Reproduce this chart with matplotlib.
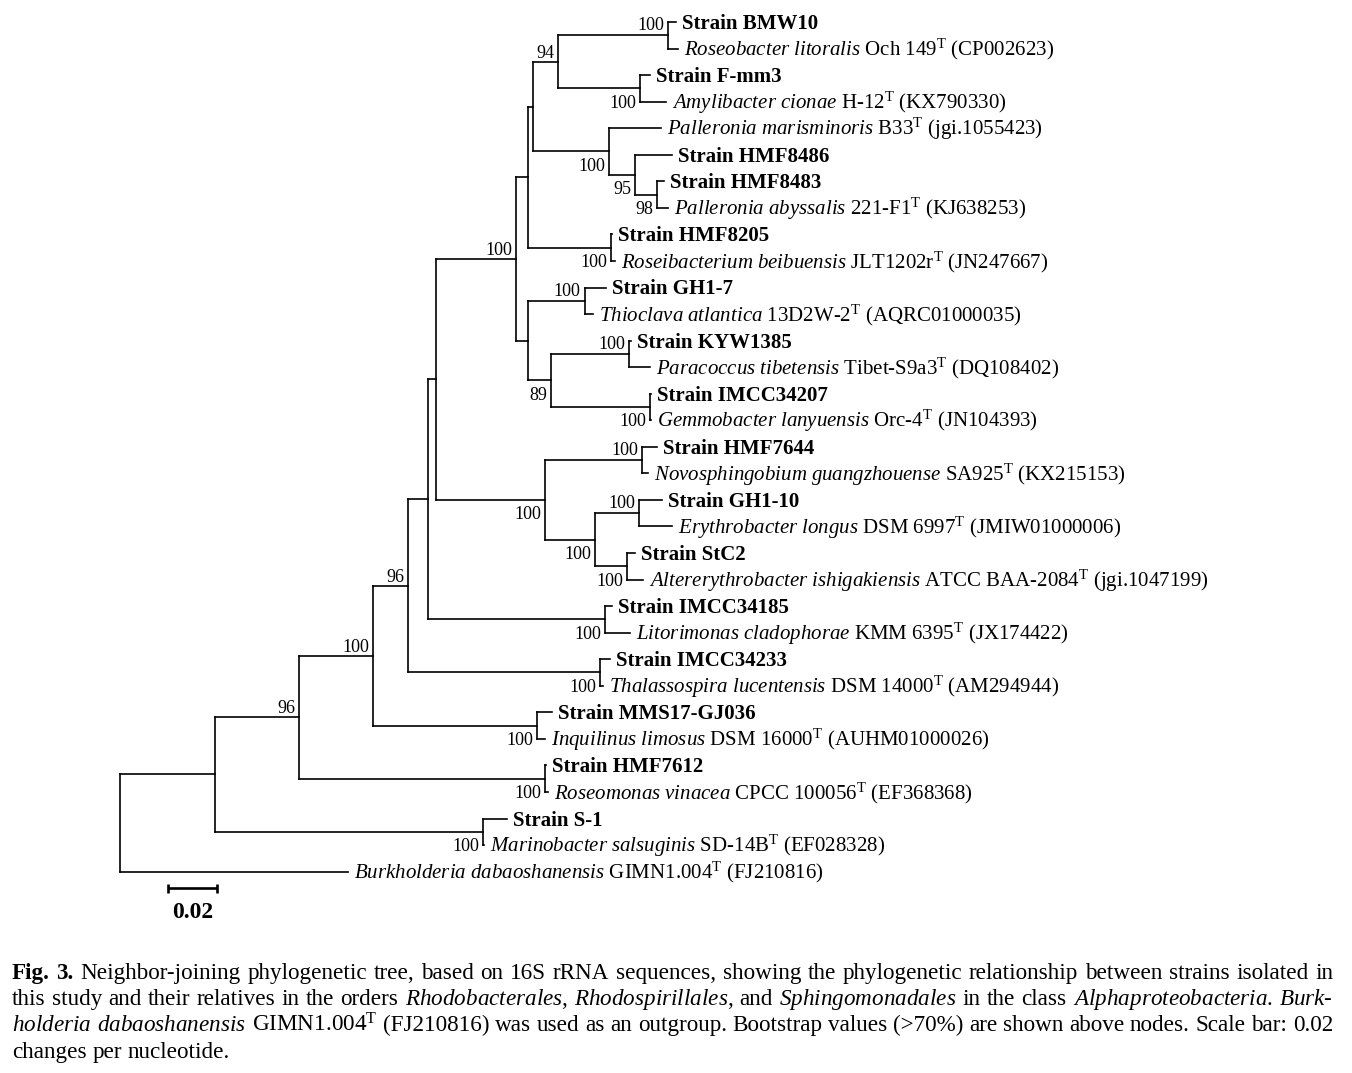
import matplotlib
matplotlib.use("Agg")
import matplotlib.pyplot as plt
from matplotlib import transforms
from matplotlib.collections import LineCollection

plt.rcParams['font.family'] = ['Liberation Serif', 'DejaVu Serif']
plt.rcParams['mathtext.fontset'] = 'custom'
plt.rcParams['mathtext.rm'] = 'Liberation Serif'
plt.rcParams['mathtext.it'] = 'Liberation Serif:italic'
plt.rcParams['mathtext.bf'] = 'Liberation Serif:bold'

# ------------------------------------------------------------------ data
leaf_labels = [
    "Strain BMW10",
    r"$\mathit{Roseobacter\ litoralis}$ Och 149$^{\mathrm{T}}$ (CP002623)",
    "Strain F-mm3",
    r"$\mathit{Amylibacter\ cionae}$ H-12$^{\mathrm{T}}$ (KX790330)",
    r"$\mathit{Palleronia\ marisminoris}$ B33$^{\mathrm{T}}$ (jgi.1055423)",
    "Strain HMF8486",
    "Strain HMF8483",
    r"$\mathit{Palleronia\ abyssalis}$ 221-F1$^{\mathrm{T}}$ (KJ638253)",
    "Strain HMF8205",
    r"$\mathit{Roseibacterium\ beibuensis}$ JLT1202r$^{\mathrm{T}}$ (JN247667)",
    "Strain GH1-7",
    r"$\mathit{Thioclava\ atlantica}$ 13D2W-2$^{\mathrm{T}}$ (AQRC01000035)",
    "Strain KYW1385",
    r"$\mathit{Paracoccus\ tibetensis}$ Tibet-S9a3$^{\mathrm{T}}$ (DQ108402)",
    "Strain IMCC34207",
    r"$\mathit{Gemmobacter\ lanyuensis}$ Orc-4$^{\mathrm{T}}$ (JN104393)",
    "Strain HMF7644",
    r"$\mathit{Novosphingobium\ guangzhouense}$ SA925$^{\mathrm{T}}$ (KX215153)",
    "Strain GH1-10",
    r"$\mathit{Erythrobacter\ longus}$ DSM 6997$^{\mathrm{T}}$ (JMIW01000006)",
    "Strain StC2",
    r"$\mathit{Altererythrobacter\ ishigakiensis}$ ATCC BAA-2084$^{\mathrm{T}}$ (jgi.1047199)",
    "Strain IMCC34185",
    r"$\mathit{Litorimonas\ cladophorae}$ KMM 6395$^{\mathrm{T}}$ (JX174422)",
    "Strain IMCC34233",
    r"$\mathit{Thalassospira\ lucentensis}$ DSM 14000$^{\mathrm{T}}$ (AM294944)",
    "Strain MMS17-GJ036",
    r"$\mathit{Inquilinus\ limosus}$ DSM 16000$^{\mathrm{T}}$ (AUHM01000026)",
    "Strain HMF7612",
    r"$\mathit{Roseomonas\ vinacea}$ CPCC 100056$^{\mathrm{T}}$ (EF368368)",
    "Strain S-1",
    r"$\mathit{Marinobacter\ salsuginis}$ SD-14B$^{\mathrm{T}}$ (EF028328)",
    r"$\mathit{Burkholderia\ dabaoshanensis}$ GIMN1.004$^{\mathrm{T}}$ (FJ210816)",
]
leaf_parent = ['nBMW', 'nBMW', 'nFmm', 'nFmm', 'nL', 'n95', 'n98', 'n98',
               'n8205', 'n8205', 'nGH17', 'nGH17', 'nKYW', 'nKYW', 'n34207', 'n34207',
               'n7644', 'n7644', 'nGH110', 'nGH110', 'nStC2', 'nStC2', 'n34185', 'n34185',
               'n34233', 'n34233', 'nMMS', 'nMMS', 'n7612', 'n7612', 'nS1', 'nS1', 'root']
leaf_length = [0.0030, 0.0041, 0.0041, 0.0106, 0.0212, 0.0151, 0.0029, 0.0045,
               0.0004, 0.0016, 0.0086, 0.0033, 0.0008, 0.0086, 0.0004, 0.0004,
               0.0061, 0.0024, 0.0094, 0.0135, 0.0033, 0.0065, 0.0029, 0.0102,
               0.0041, 0.0012, 0.0061, 0.0033, 0.0004, 0.0012, 0.0098, 0.0004, 0.0931]

node_names = ['root', 'nA', 'nB', 'nC', 'nD', 'nE', 'nF', 'nG', 'nN', 'nM', 'nK',
              'nBMW', 'nFmm', 'nL', 'n95', 'n98', 'n8205', 'nJ', 'nGH17', 'n89',
              'nKYW', 'n34207', 'nH', 'n7644', 'nEry', 'nGH110', 'nStC2', 'n34185',
              'n34233', 'nMMS', 'n7612', 'nS1']
node_parent = [None, 'root', 'nA', 'nB', 'nC', 'nD', 'nE', 'nF', 'nG', 'nN', 'nM',
               'nK', 'nK', 'nM', 'nL', 'n95', 'nN', 'nG', 'nJ', 'nJ',
               'n89', 'n89', 'nF', 'nH', 'nH', 'nEry', 'nEry', 'nE',
               'nD', 'nC', 'nB', 'nA']
node_length = [0.0, 0.0388, 0.0343, 0.0302, 0.0143, 0.0082, 0.0033, 0.0327, 0.0049,
               0.0020, 0.0102, 0.0449, 0.0335, 0.0310, 0.0106, 0.0090, 0.0339, 0.0049,
               0.0229, 0.0094, 0.0318, 0.0404, 0.0445, 0.0396, 0.0204, 0.0180, 0.0131,
               0.0722, 0.0784, 0.0669, 0.1004, 0.1094]
node_bootstrap = [None, None, 96, 100, 96, None, None, 100, None, None, 94,
                  100, 100, 100, 95, 98, 100, None, 100, 89,
                  100, 100, 100, 100, 100, 100, 100, 100,
                  100, 100, 100, 100]

scale_bar_length = 0.02
scale_bar_label = "0.02"

caption_lines = [
    "**Fig.** **3.** Neighbor-joining phylogenetic tree, based on 16S rRNA sequences, showing the phylogenetic relationship between strains isolated in",
    r"this study and their relatives in the orders $\mathit{Rhodobacterales}$, $\mathit{Rhodospirillales}$, and $\mathit{Sphingomonadales}$ in the class $\mathit{Alphaproteobacteria}$. $\mathit{Burk}$-",
    r"$\mathit{holderia}$ $\mathit{dabaoshanensis}$ GIMN1.004$^{\mathrm{T}}$ (FJ210816) was used as an outgroup. Bootstrap values (>70%) are shown above nodes. Scale bar: 0.02",
    "changes per nucleotide.",
]

# ------------------------------------------------------------------ style
bs_place = {'nB': 'above', 'nC': 'above', 'nD': 'above', 'nG': 'above', 'nK': 'above',
            'nBMW': 'top', 'nGH17': 'top', 'nKYW': 'top', 'n7644': 'top', 'nGH110': 'top',
            'nL': 'below', 'n95': 'below', 'n89': 'below', 'nH': 'below', 'nEry': 'below',
            'nFmm': 'bottom', 'n98': 'bottom', 'n8205': 'bottom', 'n34207': 'bottom',
            'nStC2': 'bottom', 'n34185': 'bottom', 'n34233': 'bottom', 'nMMS': 'bottom',
            'n7612': 'bottom', 'nS1': 'bottom'}
bs_dy = {'top': 2, 'bottom': 0, 'above': -10, 'below': 13}   # pixels downward

W, H = 1352, 1073
DPI = 100
PX_PER_UNIT = 2450.0
ROOT_PX = 120
ROW0_PX, ROW_PX = 22, 26.55

fig = plt.figure(figsize=(W / DPI, H / DPI), dpi=DPI)
fig.patch.set_facecolor('white')
ax = fig.add_axes([0, 0, 1, 1])
ax.set_xlim(-ROOT_PX / PX_PER_UNIT, (W - ROOT_PX) / PX_PER_UNIT)
ax.set_ylim((H - ROW0_PX) / ROW_PX, -ROW0_PX / ROW_PX)
ax.axis('off')

# ------------------------------------------------------------------ tree geometry
parent = {}
length = {}
for n, p, l in zip(node_names, node_parent, node_length):
    parent[n], length[n] = p, l
leaf_ids = [f"leaf{i}" for i in range(len(leaf_labels))]
for n, p, l in zip(leaf_ids, leaf_parent, leaf_length):
    parent[n], length[n] = p, l

children = {n: [] for n in node_names}
for n in node_names[1:] + leaf_ids:
    children[parent[n]].append(n)

xpos = {'root': 0.0}
for n in node_names[1:]:
    xpos[n] = xpos[parent[n]] + length[n]
for n in leaf_ids:
    xpos[n] = xpos[parent[n]] + length[n]

ypos = {n: float(i) for i, n in enumerate(leaf_ids)}


def get_y(n):
    if n not in ypos:
        ys = [get_y(c) for c in children[n]]
        ypos[n] = (min(ys) + max(ys)) / 2.0
    return ypos[n]


get_y('root')

segs = []
for n in node_names[1:] + leaf_ids:
    segs.append([(xpos[parent[n]], ypos[n]), (xpos[n], ypos[n])])
for n in node_names:
    ys = [ypos[c] for c in children[n]]
    segs.append([(xpos[n], min(ys)), (xpos[n], max(ys))])
ax.add_collection(LineCollection(segs, colors='black', linewidths=1.2,
                                 capstyle='projecting'))

# leaf labels
lab_tr = transforms.offset_copy(ax.transData, fig=fig, x=6, y=-7, units='dots')
for n, lab in zip(leaf_ids, leaf_labels):
    bold = lab.startswith("Strain")
    ax.text(xpos[n], ypos[n], lab, transform=lab_tr, ha='left', va='baseline',
            fontsize=15, fontweight='bold' if bold else 'normal', color='black')

# bootstrap labels
for n, bs in zip(node_names, node_bootstrap):
    if bs is None:
        continue
    mode = bs_place[n]
    ys = [ypos[c] for c in children[n]]
    if mode == 'top':
        yy = min(ys)
    elif mode == 'bottom':
        yy = max(ys)
    else:
        yy = ypos[n]
    tr = transforms.offset_copy(ax.transData, fig=fig, x=-4,
                                y=-(bs_dy[mode] + 6.1), units='dots')
    ax.text(xpos[n], yy, str(bs), transform=tr, ha='right', va='baseline',
            fontsize=13, color='black')

# scale bar
sb_x0 = 48 / PX_PER_UNIT
sb_y = len(leaf_labels) - 1 + 0.62
ax.plot([sb_x0, sb_x0 + scale_bar_length], [sb_y, sb_y], color='black', lw=1.9,
        solid_capstyle='butt')
for xx in (sb_x0, sb_x0 + scale_bar_length):
    ax.plot([xx, xx], [sb_y - 0.17, sb_y + 0.17], color='black', lw=1.9,
            solid_capstyle='butt')
ax.text(sb_x0 + scale_bar_length / 2, sb_y, scale_bar_label,
        transform=transforms.offset_copy(ax.transData, fig=fig, x=0, y=-30, units='dots'),
        ha='center', va='baseline', fontsize=17, fontweight='bold')

# caption (justified)
renderer = fig.canvas.get_renderer()
cap_fs = 16.7
left_px, right_px = 12, 1333
base_px = [979, 1005, 1031, 1058]
space_px = 0.25 * cap_fs * DPI / 72
for li, line in enumerate(caption_lines):
    toks = line.split(' ')
    texts = []
    for tok in toks:
        bold = tok.startswith('**')
        s = tok.strip('*') if bold else tok
        t = fig.text(0, 0, s, fontsize=cap_fs, fontweight='bold' if bold else 'normal',
                     ha='left', va='baseline', color='black')
        texts.append(t)
    widths = [t.get_window_extent(renderer).width for t in texts]
    justified = li < len(caption_lines) - 1
    if justified and len(texts) > 1:
        gap = (right_px - left_px - sum(widths)) / (len(texts) - 1)
    else:
        gap = space_px
    x = left_px
    for t, w in zip(texts, widths):
        t.set_position((x / W, 1 - base_px[li] / H))
        x += w + gap

fig.savefig('out.png', dpi=DPI, facecolor='white')
